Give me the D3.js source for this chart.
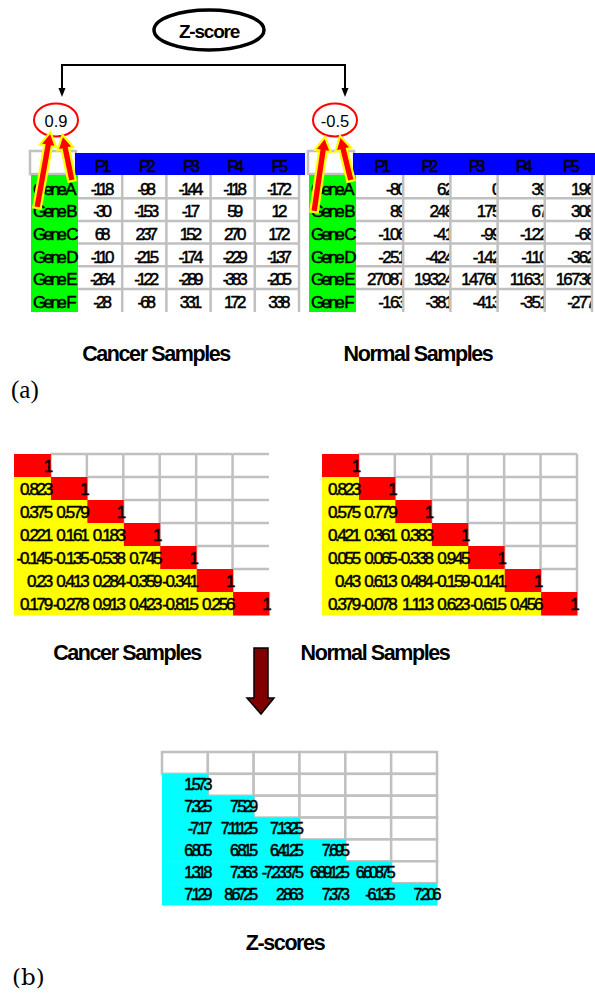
<!DOCTYPE html>
<html>
<head>
<meta charset="utf-8">
<script src="https://cdn.jsdelivr.net/npm/d3@7"></script>
<style>
  html, body { margin: 0; padding: 0; background: #ffffff; }
  svg { display: block; }
</style>
</head>
<body>
<svg id="fig" width="595" height="994"></svg>
<script>
// ---------- data ----------
const genes = ["Gene A", "Gene B", "Gene C", "Gene D", "Gene E", "Gene F"];
const patients = ["P1", "P2", "P3", "P4", "P5"];

const cancerExpr = [
  [-118, -98, -144, -118, -172],
  [-30, -153, -17, 59, 12],
  [68, 237, 152, 270, 172],
  [-110, -215, -174, -229, -137],
  [-264, -122, -289, -383, -205],
  [-28, -68, 331, 172, 338]
];
const normalExpr = [
  [-80, 62, 0, 39, 196],
  [89, 248, 175, 67, 308],
  [-106, -41, -99, -122, -68],
  [-251, -424, -142, -110, -362],
  [27087, 19324, 14760, 11631, 16736],
  [-163, -381, -413, -351, -277]
];

// lower triangles of the correlation matrices (row i holds i values)
const cancerCorr = [
  [0.823],
  [0.375, 0.579],
  [0.221, 0.161, 0.183],
  [-0.145, -0.135, -0.538, 0.745],
  [0.23, 0.413, 0.284, -0.359, -0.341],
  [0.179, -0.278, 0.913, 0.423, -0.815, 0.256]
];
const normalCorr = [
  [0.823],
  [0.575, 0.779],
  [0.421, 0.361, 0.383],
  [0.055, 0.065, -0.338, 0.945],
  [0.43, 0.613, 0.484, -0.159, -0.141],
  [0.379, -0.078, 1.113, 0.623, -0.615, 0.456]
];
const corrSize = 7;

const zScores = [
  [1.573],
  [7.325, 7.529],
  [-7.17, 7.11125, 7.1325],
  [6.805, 6.815, 6.4125, 7.695],
  [1.318, 7.363, -7.23375, 6.89125, 6.60875],
  [7.129, 8.6725, 2.863, 7.373, -6.135, 7.206]
];

const pairScores = [0.9, -0.5];
const groupNames = ["Cancer Samples", "Normal Samples"];

// ---------- setup ----------
const SANS = '"Liberation Sans", Arial, Helvetica, sans-serif';
const SERIF = '"Liberation Serif", "Times New Roman", serif';
const GRID = "#c0c0c0";
const svg = d3.select("#fig");
const defs = svg.append("defs");

function label(g, txt, x, y, size, opts = {}) {
  const t = g.append("text")
    .attr("x", x).attr("y", y)
    .attr("font-family", opts.family || SANS)
    .attr("font-size", size)
    .attr("font-weight", opts.weight || "normal")
    .attr("letter-spacing", opts.ls || 0)
    .attr("text-anchor", opts.anchor || "start")
    .attr("fill", opts.fill || "#000")
    .text(txt);
  if (opts.heavy) t.attr("stroke", "#000").attr("stroke-width", opts.heavy);
  return t;
}

// ---------- (a) expression tables ----------
let clipId = 0;
function exprTable(data, x0, x1, headerEnd, rightAligned) {
  const g = svg.append("g");
  const x = d3.scaleBand().domain(patients).range([x0, x1]);
  const y = d3.scaleBand().domain(genes).range([175.5, 311.7]);
  const bw = x.bandwidth(), bh = y.bandwidth();

  // empty corner cell
  g.append("rect").attr("x", x0 - 48).attr("y", 151).attr("width", 46).attr("height", 23)
    .attr("fill", "#fff").attr("stroke", GRID).attr("stroke-width", 2.5);
  // header band
  g.append("rect").attr("x", x0 - 3).attr("y", 153).attr("width", headerEnd - (x0 - 3)).attr("height", 22)
    .attr("fill", "#0000ff");
  // gene column
  g.append("rect").attr("x", x0 - 47).attr("y", 175).attr("width", 47).attr("height", 137)
    .attr("fill", "#00ff00");

  patients.forEach(p => label(g, p, x(p) + bw / 2 + 1, 171.5, 17, { anchor: "middle", ls: -4, heavy: 0.5 }));
  genes.forEach(gn => label(g, gn, x0 - 45, y(gn) + 19, 17, { ls: -2.6, heavy: 0.5 }));

  data.forEach((row, i) => {
    row.forEach((v, j) => {
      const p = patients[j], gn = genes[i];
      if (rightAligned) {
        const id = "c" + (clipId++);
        defs.append("clipPath").attr("id", id).append("rect")
          .attr("x", x(p)).attr("y", y(gn)).attr("width", bw - 1).attr("height", bh);
        label(g, String(v), x(p) + bw + 2, y(gn) + 19, 17, { anchor: "end", ls: -1.8, heavy: 0.5 })
          .attr("clip-path", `url(#${id})`);
      } else {
        label(g, String(v), x(p) + bw / 2 + 1, y(gn) + 19, 17, { anchor: "middle", ls: -3, heavy: 0.5 });
      }
    });
  });

  // grid
  genes.slice(1).forEach(gn => g.append("line")
    .attr("x1", x0).attr("x2", x1).attr("y1", y(gn)).attr("y2", y(gn))
    .attr("stroke", GRID).attr("stroke-width", 2.5));
  patients.forEach(p => g.append("line")
    .attr("x1", x(p) + bw).attr("x2", x(p) + bw).attr("y1", 175).attr("y2", 312)
    .attr("stroke", GRID).attr("stroke-width", 2.5));
  return { g, x, y };
}

exprTable(cancerExpr, 78, 299, 305, false);
exprTable(normalExpr, 356, 592, 595, true);

// Z-score bubble and connector
label(svg, "Z-score", 209, 37.5, 19, { weight: "bold", anchor: "middle", ls: -1.2 });
svg.append("ellipse").attr("cx", 209).attr("cy", 30).attr("rx", 55).attr("ry", 20)
  .attr("fill", "none").attr("stroke", "#000").attr("stroke-width", 3.5);
svg.append("path").attr("d", "M62,90 V65 H345 V90")
  .attr("fill", "none").attr("stroke", "#000").attr("stroke-width", 2);
[62, 345].forEach(cx => svg.append("path")
  .attr("d", `M${cx - 3.5},88 L${cx + 3.5},88 L${cx},97 Z`).attr("fill", "#000"));

// pair scores in red ovals
const ovalX = [56, 335];
pairScores.forEach((s, i) => {
  svg.append("ellipse").attr("cx", ovalX[i]).attr("cy", 120).attr("rx", 22).attr("ry", 16.5)
    .attr("fill", "#fff").attr("stroke", "#ff0000").attr("stroke-width", 2);
  label(svg, String(s), ovalX[i], 126.5, 16.5, { anchor: "middle" });
});

// block arrows from the first two genes up to the score
function blockArrow(tail, tip, shaftW, headW, headL) {
  const dx = tip[0] - tail[0], dy = tip[1] - tail[1];
  const len = Math.hypot(dx, dy);
  const ux = dx / len, uy = dy / len, px = -uy, py = ux;
  const bx = tip[0] - ux * headL, by = tip[1] - uy * headL;
  const pts = [
    [tail[0] + px * shaftW / 2, tail[1] + py * shaftW / 2],
    [bx + px * shaftW / 2, by + py * shaftW / 2],
    [bx + px * headW / 2, by + py * headW / 2],
    tip,
    [bx - px * headW / 2, by - py * headW / 2],
    [bx - px * shaftW / 2, by - py * shaftW / 2],
    [tail[0] - px * shaftW / 2, tail[1] - py * shaftW / 2]
  ];
  svg.append("path").attr("d", "M" + pts.map(p => p.join(",")).join("L") + "Z")
    .attr("fill", "#ff0000").attr("stroke", "#ffff00").attr("stroke-width", 2.2)
    .attr("stroke-linejoin", "miter");
}
blockArrow([37, 208], [50.5, 132], 7.5, 16, 14);
blockArrow([72, 181], [62.5, 135], 7.5, 16, 14);
blockArrow([314, 212], [325, 137], 7.5, 16, 14);
blockArrow([351, 181], [340, 136], 7.5, 16, 14);

label(svg, groupNames[0], 156, 360.5, 21.5, { weight: "bold", anchor: "middle", ls: -1.4 });
label(svg, groupNames[1], 418, 360.5, 21.5, { weight: "bold", anchor: "middle", ls: -1.4 });
label(svg, "(a)", 11, 398, 25, { family: SERIF });

// ---------- (b) correlation matrices ----------
function corrMatrix(vals, x0, rightBorder) {
  const g = svg.append("g");
  const idx = d3.range(corrSize);
  const x = d3.scaleBand().domain(idx).range([x0, x0 + 255]);
  const y = d3.scaleBand().domain(idx).range([454, 615]);
  const bw = x.bandwidth(), bh = y.bandwidth();

  // grid of the empty upper triangle
  idx.forEach(r => idx.filter(c => c > r).forEach(c => {
    const line = (a, b, c2, d) => g.append("line").attr("x1", a).attr("y1", b).attr("x2", c2).attr("y2", d)
      .attr("stroke", GRID).attr("stroke-width", 2.5);
    line(x(c), y(r), x(c) + bw, y(r));
    line(x(c), y(r), x(c), y(r) + bh);
    if (rightBorder && c === corrSize - 1) line(x(c) + bw, y(r), x(c) + bw, y(r) + bh);
  }));

  // diagonal
  idx.forEach(r => {
    g.append("rect").attr("x", x(r)).attr("y", y(r)).attr("width", bw + 0.5).attr("height", bh + 0.5)
      .attr("fill", "#ff0000");
    label(g, "1", x(r) + bw + 0.5, y(r) + bh / 2 + 6.5, 17, { anchor: "end", ls: -2.3, heavy: 0.5 });
  });
  // lower triangle values
  vals.forEach((row, i) => {
    const r = i + 1;
    row.forEach((v, c) => {
      g.append("rect").attr("x", x(c)).attr("y", y(r)).attr("width", bw + 0.5).attr("height", bh + 0.5)
        .attr("fill", "#ffff00");
    });
    row.forEach((v, c) => {
      label(g, String(v), x(c) + bw + 0.5, y(r) + bh / 2 + 6.5, 17, { anchor: "end", ls: -2.3, heavy: 0.5 });
    });
  });
}
corrMatrix(cancerCorr, 14, false);
corrMatrix(normalCorr, 322, true);

label(svg, groupNames[0], 127, 659.5, 21.5, { weight: "bold", anchor: "middle", ls: -1.4 });
label(svg, groupNames[1], 375, 659.5, 21.5, { weight: "bold", anchor: "middle", ls: -1.4 });

// arrow down to the Z-score matrix
svg.append("path")
  .attr("d", "M254,648 H268 V698 H274 L261,714 L247,698 H254 Z")
  .attr("fill", "#800000").attr("stroke", "#000").attr("stroke-width", 1.5);

// ---------- Z-score matrix ----------
(function () {
  const g = svg.append("g");
  const cols = d3.range(6), rows = d3.range(7);
  const x = d3.scaleBand().domain(cols).range([162, 437]);
  const y = d3.scaleBand().domain(rows).range([752, 905]);
  const bw = x.bandwidth(), bh = y.bandwidth();

  rows.forEach(r => cols.filter(c => r === 0 || c >= r).forEach(c => {
    g.append("rect").attr("x", x(c)).attr("y", y(r)).attr("width", bw).attr("height", bh)
      .attr("fill", "#fff").attr("stroke", GRID).attr("stroke-width", 2.5);
  }));
  zScores.forEach((row, i) => {
    const r = i + 1;
    row.forEach((v, c) => g.append("rect").attr("x", x(c)).attr("y", y(r))
      .attr("width", bw + 0.5).attr("height", bh + 0.5).attr("fill", "#00ffff"));
  });
  zScores.forEach((row, i) => {
    const r = i + 1;
    row.forEach((v, c) => label(g, String(v), x(c) + bw + 1.5, y(r) + bh / 2 + 5.5, 16, { anchor: "end", ls: -3, heavy: 0.5 }));
  });
})();

label(svg, "Z-scores", 285, 950, 21.5, { weight: "bold", anchor: "middle", ls: -1.4 });
label(svg, "(b)", 12, 985, 23, { family: '"DejaVu Serif", serif' });
</script>
</body>
</html>
